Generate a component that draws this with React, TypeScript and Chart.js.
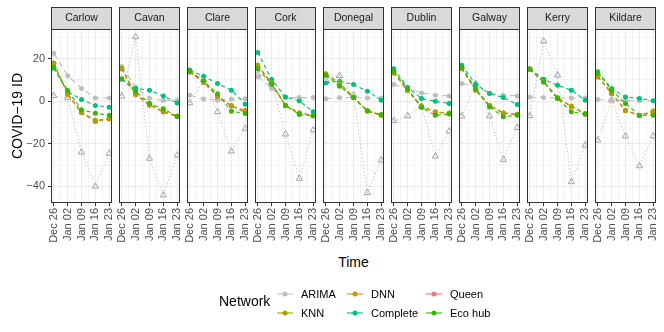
import React, { useEffect, useRef } from 'react';
import { Chart, registerables } from 'chart.js';
Chart.register(...registerables);

const FONT = "'Liberation Sans', Arial, Helvetica, sans-serif";
Chart.defaults.font.family = FONT;

// ---------- data ----------
const counties = ['Carlow', 'Cavan', 'Clare', 'Cork', 'Donegal', 'Dublin', 'Galway', 'Kerry', 'Kildare'];
const dateLabels = ['Dec 26', 'Jan 02', 'Jan 09', 'Jan 16', 'Jan 23'];
const dayOffsets = [0, 7, 14, 21, 28];
const yTickValues = [-40, -20, 0, 20];

const networks = ['ARIMA', 'KNN', 'DNN', 'Complete', 'Queen', 'Eco hub'];
const networkColors = ['#BEBEBE', '#A3A500', '#D89000', '#00BF7D', '#F8766D', '#39B600'];
// drawing order (lower = drawn on top)
const networkOrder = [7, 3, 4, 5, 8, 2];

const arimaValues = [
  [22.5, 12, 6, 1.5, 1.5],
  [16.3, 6.5, 1.4, 0.3, 0.5],
  [2.8, 1, 0.5, 0.9, 1.2],
  [11.5, 6, 1.7, 1.7, 1.7],
  [1.2, 1.6, 1.8, 1.5, 1.5],
  [7.8, 6, 3.9, 2.8, 2.5],
  [8.3, 7, 3.9, 2.8, 2.5],
  [2, 1.7, 1.5, 1.5, 1.5],
  [0.8, 0.5, 0.2, 0.2, 0.2],
];
const knnValues = [
  [18, 3.5, -5, -9, -8],
  [15.5, 3.5, -1.5, -4.8, -7],
  [14, 9.5, 2.5, -2, -5.5],
  [17, 8.5, -2, -5.5, -6.8],
  [12.7, 8.3, 2, -4.5, -6.6],
  [13.3, 5.2, -2.3, -5, -5.5],
  [15.3, 5.5, -1.9, -5.5, -6.1],
  [15, 9.4, 1.7, -2.3, -5.8],
  [11.7, 3.9, -4.2, -6.6, -4.6],
];
const dnnValues = [
  [17.8, 3.2, -5.3, -9.4, -8.3],
  [15.3, 3.2, -1.8, -5, -7.1],
  [13.8, 9, 2.2, -2.2, -4.5],
  [16.8, 8.3, -2, -5.5, -6.8],
  [12.9, 8.5, 1.8, -4.6, -6.5],
  [13.5, 5, -2.5, -5.2, -5.6],
  [15.5, 5.3, -2, -5.6, -6.2],
  [15.2, 9.2, 1.5, -2.5, -5.9],
  [11.5, 3.7, -4.4, -6.7, -5.2],
];
const completeValues = [
  [15.5, 4.5, 0.8, -2, -2.8],
  [10.3, 6, 5.2, 2.4, -0.8],
  [14.6, 11.7, 8.3, 5.2, -1.4],
  [22.9, 10.2, 2, 0.1, -5],
  [8.6, 9.4, 7.8, 4.7, 0.5],
  [15.3, 6.4, 1.3, 0, -1.1],
  [16.9, 8, 3.6, 1.7, -1.6],
  [15.3, 10.3, 7.5, 5.2, 0.5],
  [13.8, 6, 2, 1.3, 0.2],
];
const queenValues = [
  [17.6, 3, -5.4, -9.5, -8.4],
  [15.1, 3, -1.9, -5.1, -7.2],
  [13.6, 8.8, 2, -2.3, -4.4],
  [16.6, 8, -2.1, -5.6, -6.6],
  [12.7, 8.2, 1.6, -4.7, -6.6],
  [13.2, 4.9, -2.6, -5.3, -5.7],
  [15.2, 5.1, -2.1, -5.7, -6.3],
  [15, 9, 1.3, -2.6, -6],
  [11.4, 3.5, -4.5, -6.8, -5.3],
];
const ecoHubValues = [
  [16, 5, -4, -5.6, -6.6],
  [10.5, 4.5, -1, -3.6, -7.2],
  [14.2, 9.5, 3.5, -4.7, -5.8],
  [15.3, 8, -2, -6.3, -6.8],
  [12.2, 7, 1.6, -4.5, -6.3],
  [14, 5.8, -3, -6.6, -6],
  [16, 5.8, -2.7, -7.3, -6.6],
  [15, 9, 1.3, -5, -6.1],
  [13.3, 5.2, -1.1, -6.6, -6.6],
];
const observedValues = [
  [2.5, 1.5, -24, -40, -24.5],
  [2.3, 30.2, -26.9, -44.1, -25.4],
  [-0.8, 10, -5, -23.5, -12.8],
  [12.5, 9, -15.5, -36.3, -13.6],
  [10, 12, 3, -43, -27.7],
  [-9.2, -6.9, -2.3, -25.8, -14.1],
  [-7, 8.3, -7, -27.4, -12.4],
  [-6.9, 28.2, 12.2, -37.9, -20.7],
  [-18.3, 0.5, -16.4, -30.4, -16.4],
];

const networkSeries = [arimaValues, knnValues, dnnValues, completeValues, queenValues, ecoHubValues];

// ---------- layout ----------
const PANEL_LEFT0 = 51;
const PITCH = 68;
const PANEL_W = 61;
const STRIP_TOP = 7;
const PLOT_TOP = 29;
const PLOT_BOTTOM = 203;
const CANVAS_H = 252;
const PAD_L = 10;
const PAD_R = 22;

// scale ranges with ggplot-like 5% expansion
const allY = [...networkSeries.flat(2), ...observedValues.flat()];
const yMinData = Math.min(...allY);
const yMaxData = Math.max(...allY);
const yExp = (yMaxData - yMinData) * 0.05;
const xExp = (dayOffsets[dayOffsets.length - 1] - dayOffsets[0]) * 0.05;
const xGridValues: number[] = [];
dayOffsets.forEach((d, i) => {
  xGridValues.push(d);
  if (i < dayOffsets.length - 1) xGridValues.push((d + dayOffsets[i + 1]) / 2);
});
const yGridValues: number[] = [];
for (let v = Math.ceil((yMinData - yExp) / 10) * 10; v <= yMaxData + yExp; v += 10) yGridValues.push(v);

const fmt = (v: number) => (v < 0 ? '\u2212' + Math.abs(v) : String(v));

const stripPlugin = {
  id: 'facetStrip',
  afterDraw(chart: any, _args: any, opts: any) {
    const { ctx, chartArea } = chart;
    const { left, right, top, bottom } = chartArea;
    ctx.save();
    ctx.fillStyle = '#D9D9D9';
    ctx.fillRect(left, STRIP_TOP, right - left, top - STRIP_TOP);
    ctx.strokeStyle = '#333333';
    ctx.lineWidth = 1;
    ctx.strokeRect(left + 0.5, STRIP_TOP + 0.5, right - left - 1, top - STRIP_TOP);
    ctx.strokeRect(left + 0.5, top + 0.5, right - left - 1, bottom - top - 1);
    ctx.fillStyle = '#1A1A1A';
    ctx.font = `10.5px ${FONT}`;
    ctx.textAlign = 'center';
    ctx.textBaseline = 'middle';
    ctx.fillText(opts.label, (left + right) / 2, (STRIP_TOP + top) / 2 + 0.5);
    ctx.restore();
  },
};

function Panel({ index }: { index: number }) {
  const ref = useRef<HTMLCanvasElement>(null);
  const first = index === 0;
  const left = first ? 0 : PANEL_LEFT0 + PITCH * index - PAD_L;
  const width = first ? PANEL_LEFT0 + PANEL_W + PAD_R : PANEL_W + PAD_L + PAD_R;

  useEffect(() => {
    const toPts = (vals: number[]) => vals.map((y, i) => ({ x: dayOffsets[i], y }));
    const datasets: any[] = [];
    datasets.push({
      label: 'Observed',
      data: toPts(observedValues[index]),
      borderColor: '#B0B0B0',
      borderWidth: 1,
      borderDash: [1, 2.5],
      pointStyle: 'triangle',
      pointRadius: 3.6,
      pointBorderWidth: 0.9,
      pointBorderColor: '#9A9A9A',
      pointBackgroundColor: 'rgba(255,255,255,0)',
      order: 9,
    });
    networks.forEach((name, k) => {
      datasets.push({
        label: name,
        data: toPts(networkSeries[k][index]),
        borderColor: networkColors[k],
        backgroundColor: networkColors[k],
        borderWidth: 1.1,
        borderDash: k === 0 ? [6, 4] : [4, 3],
        pointRadius: 2.5,
        pointBorderWidth: 0,
        pointBackgroundColor: networkColors[k],
        order: networkOrder[k],
      });
    });

    const chart = new Chart(ref.current!, {
      type: 'line',
      data: { datasets },
      options: {
        animation: false,
        responsive: false,
        maintainAspectRatio: false,
        events: [],
        layout: { padding: { left: first ? 0 : PAD_L, right: PAD_R, top: PLOT_TOP, bottom: 0 } },
        plugins: {
          legend: { display: false },
          tooltip: { enabled: false },
          facetStrip: { label: counties[index] },
        } as any,
        scales: {
          x: {
            type: 'linear',
            min: dayOffsets[0] - xExp,
            max: dayOffsets[dayOffsets.length - 1] + xExp,
            afterBuildTicks: (s: any) => {
              s.ticks = xGridValues.map((v) => ({ value: v }));
            },
            afterFit: (s: any) => {
              s.height = CANVAS_H - PLOT_BOTTOM;
            },
            border: { display: false },
            grid: {
              color: '#EBEBEB',
              lineWidth: (c: any) => (dayOffsets.includes(c.tick?.value) ? 1 : 0.6),
              tickColor: (c: any) => (dayOffsets.includes(c.tick?.value) ? '#333333' : 'rgba(0,0,0,0)'),
              tickWidth: 1,
              tickLength: 3,
            },
            ticks: {
              autoSkip: false,
              minRotation: 90,
              maxRotation: 90,
              padding: 2,
              color: '#4D4D4D',
              font: { size: 11 },
              callback: (v: any) => {
                const i = dayOffsets.indexOf(Number(v));
                return i >= 0 ? dateLabels[i] : '';
              },
            },
          },
          y: {
            type: 'linear',
            min: yMinData - yExp,
            max: yMaxData + yExp,
            afterBuildTicks: (s: any) => {
              s.ticks = yGridValues.map((v) => ({ value: v }));
            },
            afterFit: (s: any) => {
              s.width = first ? PANEL_LEFT0 : 0;
            },
            border: { display: false },
            grid: {
              color: '#EBEBEB',
              lineWidth: (c: any) => (yTickValues.includes(c.tick?.value) ? 1 : 0.6),
              tickColor: (c: any) => (yTickValues.includes(c.tick?.value) ? '#333333' : 'rgba(0,0,0,0)'),
              tickWidth: 1,
              tickLength: 3,
              drawTicks: first,
            },
            ticks: {
              display: first,
              padding: 3,
              color: '#4D4D4D',
              font: { size: 11 },
              callback: (v: any) => (yTickValues.includes(Number(v)) ? fmt(Number(v)) : ''),
            },
            title: {
              display: first,
              text: 'COVID\u221219 ID',
              color: '#000000',
              font: { size: 14 },
              padding: { top: 10, bottom: 0 },
            },
          },
        },
      },
      plugins: [stripPlugin],
    });
    return () => chart.destroy();
  }, [index]);

  return (
    <canvas
      ref={ref}
      width={width}
      height={CANVAS_H}
      style={{ position: 'absolute', left, top: 0, width, height: CANVAS_H }}
    />
  );
}

const legendCols = [285, 355, 434];
const legendRows = [294, 313];

function LegendKey({ color, cx, cy }: { color: string; cx: number; cy: number }) {
  return (
    <svg width={18} height={10} style={{ position: 'absolute', left: cx - 9, top: cy - 5 }}>
      <line x1={1} y1={5} x2={17} y2={5} stroke={color} strokeWidth={1.1} />
      <circle cx={9} cy={5} r={2.5} fill={color} />
    </svg>
  );
}

export default function App() {
  return (
    <div
      style={{
        position: 'absolute',
        left: 0,
        top: 0,
        width: 664,
        height: 332,
        background: '#FFFFFF',
        overflow: 'hidden',
        fontFamily: FONT,
      }}
    >
      {counties.map((_, i) => (
        <Panel key={i} index={i} />
      ))}
      <div
        style={{
          position: 'absolute',
          left: 253.5,
          width: 200,
          top: 253,
          textAlign: 'center',
          fontSize: 14,
          lineHeight: '18px',
          color: '#000',
        }}
      >
        Time
      </div>
      <div style={{ position: 'absolute', left: 219, top: 293, fontSize: 14, lineHeight: '16px', color: '#000' }}>
        Network
      </div>
      {networks.map((name, k) => {
        const col = Math.floor(k / 2);
        const row = k % 2;
        const cx = legendCols[col];
        const cy = legendRows[row];
        return (
          <React.Fragment key={name}>
            <LegendKey color={networkColors[k]} cx={cx} cy={cy} />
            <div
              style={{
                position: 'absolute',
                left: cx + 16,
                top: cy - 7,
                fontSize: 11,
                lineHeight: '14px',
                color: '#000',
                whiteSpace: 'nowrap',
              }}
            >
              {name}
            </div>
          </React.Fragment>
        );
      })}
    </div>
  );
}
